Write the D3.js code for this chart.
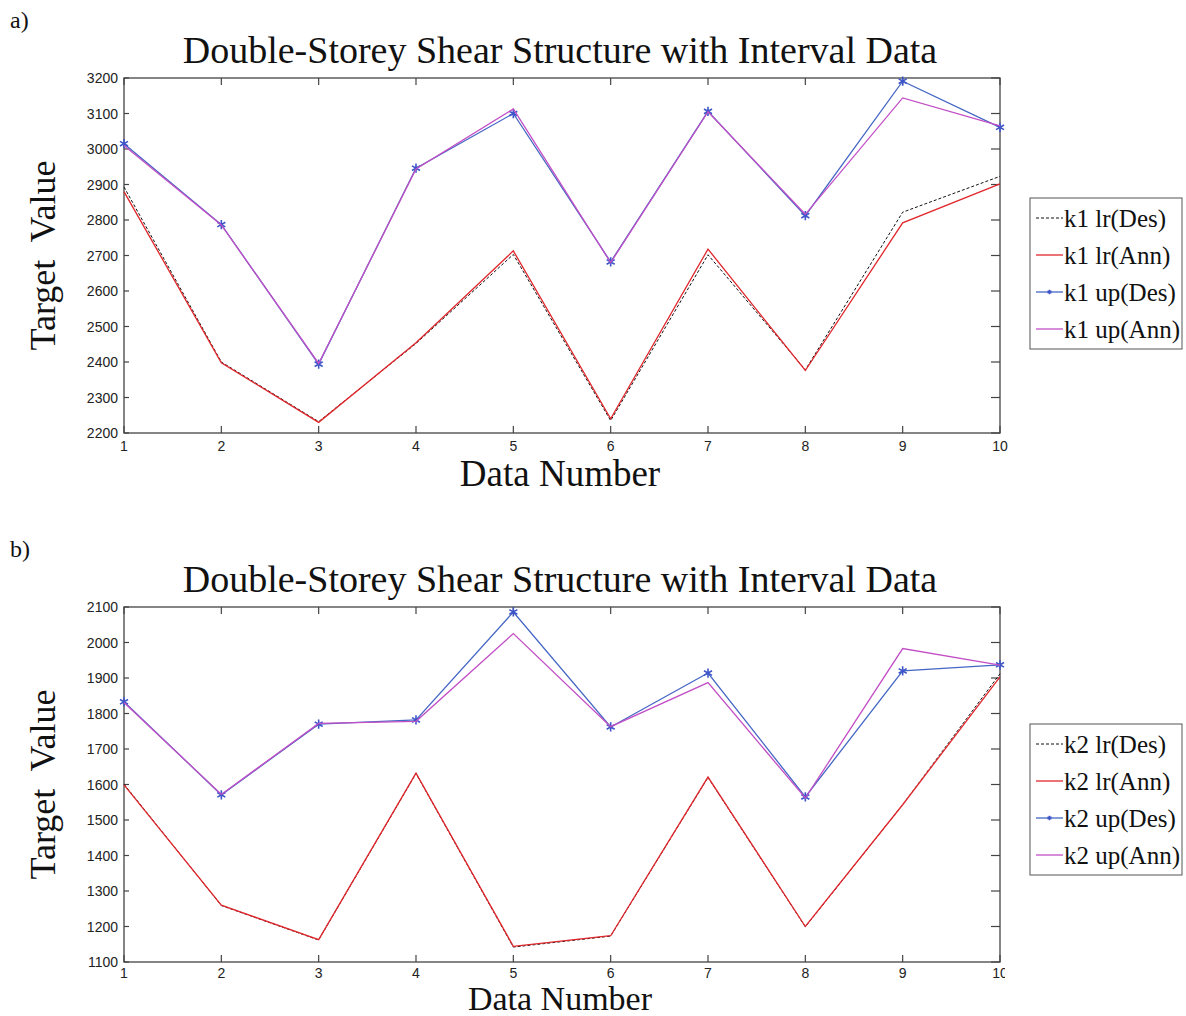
<!DOCTYPE html>
<html lang="en">
<head>
  <meta charset="UTF-8">
  <title>Double-Storey Shear Structure with Interval Data</title>
  <script src="https://d3js.org/d3.v7.min.js"></script>
  <style>
    body { margin: 0; background: #fff; }
    svg { display: block; }
    .serif { font-family: "Liberation Serif", "DejaVu Serif", serif; fill: #111; }
    .tick-label { font-family: "Liberation Sans", Arial, sans-serif; font-size: 14px; fill: #222; }
  </style>
</head>
<body>
<svg width="1186" height="1016"></svg>
<script>
  // data
  const dataNumber = [1, 2, 3, 4, 5, 6, 7, 8, 9, 10];

  const k1LrDes = [2893, 2400, 2232, 2452, 2703, 2235, 2702, 2378, 2822, 2923];
  const k1LrAnn = [2880, 2398, 2230, 2454, 2713, 2240, 2718, 2376, 2792, 2902];
  const k1UpDes = [3015, 2787, 2394, 2946, 3100, 2682, 3106, 2812, 3191, 3061];
  const k1UpAnn = [3010, 2786, 2396, 2944, 3113, 2680, 3105, 2816, 3144, 3065];

  const k2LrDes = [1601, 1259, 1162, 1631, 1142, 1173, 1620, 1199, 1543, 1912];
  const k2LrAnn = [1599, 1260, 1163, 1632, 1144, 1174, 1621, 1200, 1543, 1903];
  const k2UpDes = [1833, 1571, 1770, 1782, 2086, 1762, 1914, 1565, 1920, 1937];
  const k2UpAnn = [1831, 1572, 1772, 1778, 2025, 1763, 1887, 1562, 1983, 1936];

  const yTicksA = [2200, 2300, 2400, 2500, 2600, 2700, 2800, 2900, 3000, 3100, 3200];
  const yTicksB = [1100, 1200, 1300, 1400, 1500, 1600, 1700, 1800, 1900, 2000, 2100];

  const titleText = "Double-Storey Shear Structure with Interval Data";

  const svg = d3.select("svg");

  const left = 124, right = 1000;
  const x = d3.scaleLinear().domain([1, 10]).range([left, right]);

  const styles = {
    lrDes: { color: "#111", width: 1, dash: "3,2" },
    lrAnn: { color: "#e0262b", width: 1.3, dash: null },
    upDes: { color: "#4466c4", width: 1.3, dash: null, marker: true },
    upAnn: { color: "#c24fc6", width: 1.3, dash: null }
  };

  function drawPanel(cfg) {
    const g = svg.append("g");
    const y = d3.scaleLinear().domain(cfg.domain).range([cfg.bottom, cfg.top]);

    // panel letter
    g.append("text").attr("class", "serif")
      .attr("x", 10).attr("y", cfg.top - 50)
      .attr("font-size", 24).text(cfg.letter);

    // title
    g.append("text").attr("class", "serif")
      .attr("x", 560).attr("y", cfg.top - 15)
      .attr("text-anchor", "middle")
      .attr("font-size", 38).text(titleText);

    // box
    g.append("rect")
      .attr("x", left).attr("y", cfg.top)
      .attr("width", right - left).attr("height", cfg.bottom - cfg.top)
      .attr("fill", "none").attr("stroke", "#444").attr("stroke-width", 1.3);

    // ticks inward on each side
    const tk = g.append("g").attr("stroke", "#444").attr("stroke-width", 1.2);
    dataNumber.forEach(d => {
      tk.append("line").attr("x1", x(d)).attr("x2", x(d))
        .attr("y1", cfg.bottom).attr("y2", cfg.bottom - 7);
      tk.append("line").attr("x1", x(d)).attr("x2", x(d))
        .attr("y1", cfg.top).attr("y2", cfg.top + 7);
    });
    cfg.yTicks.forEach(v => {
      tk.append("line").attr("x1", left).attr("x2", left + 5)
        .attr("y1", y(v)).attr("y2", y(v));
      tk.append("line").attr("x1", right).attr("x2", right - 9)
        .attr("y1", y(v)).attr("y2", y(v));
    });

    // tick labels
    g.append("g").selectAll("text").data(cfg.yTicks).join("text")
      .attr("class", "tick-label")
      .attr("x", left - 6).attr("y", d => y(d)).attr("dy", "0.36em")
      .attr("text-anchor", "end").text(d => d);

    const xl = g.append("g");
    if (cfg.clipX) {
      svg.append("clipPath").attr("id", "clipx" + cfg.letter[0])
        .append("rect").attr("x", 0).attr("y", 0).attr("width", 1005).attr("height", 1016);
      xl.attr("clip-path", `url(#clipx${cfg.letter[0]})`);
    }
    xl.selectAll("text").data(dataNumber).join("text")
      .attr("class", "tick-label")
      .attr("x", d => x(d)).attr("y", cfg.bottom + cfg.xTickGap)
      .attr("text-anchor", "middle").text(d => d);

    // axis titles
    g.append("text").attr("class", "serif")
      .attr("x", 560).attr("y", cfg.bottom + cfg.xLabelGap)
      .attr("text-anchor", "middle").attr("font-size", cfg.xLabelSize).text("Data Number");

    g.append("text").attr("class", "serif")
      .attr("transform", `translate(55,${(cfg.top + cfg.bottom) / 2}) rotate(-90)`)
      .attr("text-anchor", "middle").attr("font-size", 36)
      .style("white-space", "pre").text("Target  Value");

    // lines
    const line = d3.line().x((d, i) => x(dataNumber[i])).y(d => y(d));
    cfg.series.forEach(s => {
      const st = styles[s.key];
      g.append("path").datum(s.values)
        .attr("d", line)
        .attr("fill", "none")
        .attr("stroke", st.color)
        .attr("stroke-width", st.width)
        .attr("stroke-dasharray", st.dash)
        .attr("stroke-linejoin", "miter");
      if (st.marker) {
        g.append("g").selectAll("path").data(s.values).join("path")
          .attr("transform", (d, i) => `translate(${x(dataNumber[i])},${y(d)})`)
          .attr("d", d3.symbol(d3.symbolAsterisk, 60))
          .attr("fill", "none").attr("stroke", "#3d55c8").attr("stroke-width", 1.6);
      }
    });

    // legend
    const lg = g.append("g").attr("transform", `translate(1030,${cfg.legendTop})`);
    lg.append("rect").attr("width", 152).attr("height", 151)
      .attr("fill", "#fff").attr("stroke", "#555").attr("stroke-width", 1);
    cfg.series.forEach((s, i) => {
      const st = styles[s.key];
      const cy = 20 + i * 37;
      lg.append("line").attr("x1", 6).attr("x2", 33).attr("y1", cy).attr("y2", cy)
        .attr("stroke", st.color).attr("stroke-width", st.width)
        .attr("stroke-dasharray", st.dash);
      if (st.marker) {
        lg.append("path").attr("transform", `translate(19.5,${cy})`)
          .attr("d", d3.symbol(d3.symbolAsterisk, 14))
          .attr("fill", "none").attr("stroke", "#3d55c8").attr("stroke-width", 1.4);
      }
      lg.append("text").attr("class", "serif")
        .attr("x", 34).attr("y", cy).attr("dy", "0.34em")
        .attr("font-size", 25).text(s.label);
    });
  }

  drawPanel({
    letter: "a)", top: 78, bottom: 433, domain: [2200, 3200], yTicks: yTicksA,
    legendTop: 198, xLabelGap: 53, xLabelSize: 37, xTickGap: 18,
    series: [
      { key: "lrDes", label: "k1 lr(Des)", values: k1LrDes },
      { key: "lrAnn", label: "k1 lr(Ann)", values: k1LrAnn },
      { key: "upDes", label: "k1 up(Des)", values: k1UpDes },
      { key: "upAnn", label: "k1 up(Ann)", values: k1UpAnn }
    ]
  });

  drawPanel({
    letter: "b)", top: 607, bottom: 962, domain: [1100, 2100], yTicks: yTicksB,
    legendTop: 724, clipX: true, xLabelGap: 48, xLabelSize: 34, xTickGap: 16,
    series: [
      { key: "lrDes", label: "k2 lr(Des)", values: k2LrDes },
      { key: "lrAnn", label: "k2 lr(Ann)", values: k2LrAnn },
      { key: "upDes", label: "k2 up(Des)", values: k2UpDes },
      { key: "upAnn", label: "k2 up(Ann)", values: k2UpAnn }
    ]
  });
</script>
</body>
</html>
